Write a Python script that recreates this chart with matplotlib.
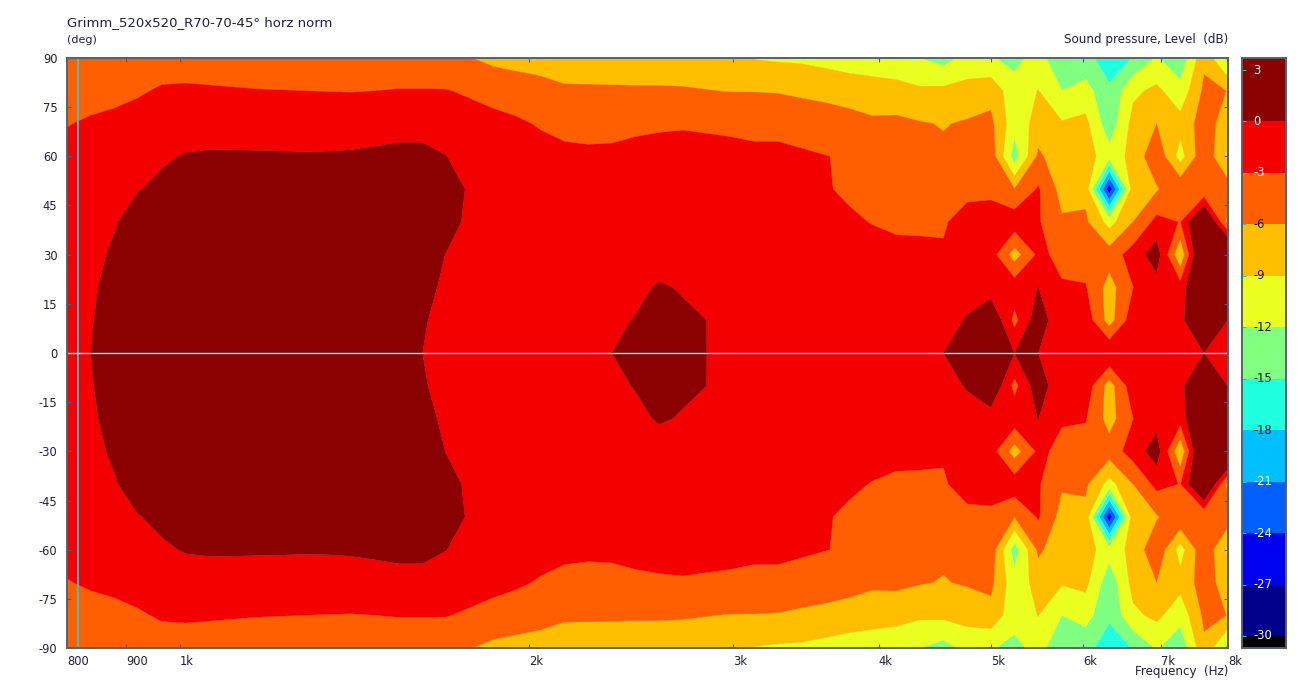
import numpy as np
import matplotlib
matplotlib.use("Agg")
import matplotlib.pyplot as plt
from matplotlib.colors import ListedColormap, BoundaryNorm

# frequency grid of the measurement (Hz)
freqs = [800, 838.5, 878.8, 921.1, 965.4, 1011.8, 1060.5, 1111.5, 1165, 1221,
         1279.7, 1341.3, 1405.8, 1473.4, 1544.3, 1618.6, 1696.4, 1778, 1863.6, 1953.2,
         2047.2, 2145.6, 2248.8, 2357, 2470.4, 2589.2, 2713.7, 2844.3, 2981.1, 3124.5,
         3274.8, 3432.3, 3597.4, 3770.5, 3951.9, 4142, 4341.2, 4550, 4768.9, 4998.3,
         5238.7, 5490.7, 5754.8, 6031.6, 6321.8, 6625.9, 6944.6, 7278.7, 7628.8, 8000]

angles_up = [10, 20, 30, 40, 50, 60, 70, 80, 90]

# on-axis row: normalised so it sits right at 0 dB, only the sign of the rounding differs
spl_axis = [-.01, .0001, .0001, .0001, .0001, .0001, .0001, .0001, .0001, .0001,
            .0001, .0001, .0001, .0001, .0001, .0001, -.01, -.01, -.01, -.01,
            -.01, -.01, -.01, .0001, .0001, .0001, .0001, .0001, -.01, -.01,
            -.01, -.01, -.01, -.01, -.01, -.01, -.01, .0001, .0001, .0001,
            .0001, .0001, -.01, -.01, -.01, -.01, -.01, -.01, .0001, -.01]

# dB per frequency at angles_up
spl_up = [
    [-.4, -.8, -1.1, -1.4, -1.8, -2.3, -3.1, -4.1, -5.1],
    [-.1, -.3, -.7, -1, -1.4, -1.9, -2.7, -3.9, -4.9],
    [.7, .67, .38, -.2, -1, -1.5, -2.3, -3.8, -4.7],
    [1.3, 1.5, 1.4, 1.1, -.1, -.9, -1.9, -3.3, -4.5],
    [1.8, 2.1, 2.1, 1.6, .5, -.3, -1.4, -2.7, -4.3],
    [2.2, 2.6, 2.6, 2.2, 1.1, .15, -1.1, -2.6, -4.3],
    [2.3, 2.7, 2.8, 2.5, 1.4, .25, -1, -2.7, -4.4],
    [2.3, 2.8, 2.9, 2.6, 1.5, .25, -1, -2.8, -4.5],
    [2.3, 2.8, 3, 2.7, 1.6, .22, -1, -2.9, -4.6],
    [2.3, 2.8, 3, 2.7, 1.6, .2, -1, -2.95, -4.6],
    [2.3, 2.8, 3, 2.7, 1.6, .18, -1.1, -3, -4.7],
    [2.2, 2.8, 3, 2.7, 1.6, .2, -1.1, -3.05, -4.7],
    [2.2, 2.7, 3, 2.7, 1.7, .25, -1, -3.1, -4.7],
    [2, 2.5, 2.9, 2.7, 1.9, .4, -.9, -3, -4.6],
    [1.5, 2, 2.3, 2.4, 2, .6, -.8, -2.9, -4.5],
    [.4, 1, 1.5, 1.8, 1.7, .6, -.8, -2.9, -4.5],
    [-1.3, -.6, -.05, .9, 1.2, .05, -1.2, -2.9, -4.9],
    [-1.4, -1.3, -1.1, -.5, -.3, -1, -2, -3.3, -5.9],
    [-1.2, -1.1, -1.1, -1, -1.1, -1.7, -2.4, -3.7, -6.8],
    [-1, -1.1, -1.1, -1.1, -1.4, -1.9, -2.7, -4.1, -7.3],
    [-.8, -1, -1.1, -1.2, -1.6, -2.2, -3.2, -4.6, -7.7],
    [-.7, -1, -1.1, -1.3, -1.8, -2.5, -3.6, -5.6, -7.5],
    [-.6, -.9, -1.1, -1.4, -1.9, -2.6, -3.7, -5.6, -7.6],
    [-.4, -.8, -1.1, -1.4, -1.9, -2.6, -3.6, -5.6, -7.8],
    [.1, -.45, -1, -1.3, -1.8, -2.4, -3.4, -5.6, -8],
    [.8, .2, -.9, -1.2, -1.7, -2.2, -3.3, -5.6, -8],
    [.35, -.15, -1, -1.3, -1.7, -2.2, -3.2, -5.7, -8],
    [0, -.6, -1.1, -1.4, -1.8, -2.3, -3.3, -5.9, -8.3],
    [-.3, -.7, -1.1, -1.5, -1.9, -2.4, -3.4, -6.1, -8.7],
    [-.3, -.7, -1.2, -1.6, -2, -2.5, -3.6, -6.1, -9.1],
    [-.3, -.8, -1.2, -1.7, -2.1, -2.5, -3.6, -6.2, -9.4],
    [-.3, -.9, -1.3, -1.8, -2.3, -2.7, -3.9, -6.6, -9.5],
    [-.4, -1, -1.6, -2.3, -2.9, -2.95, -4.2, -7, -9.9],
    [-.5, -1.1, -1.8, -2.8, -3.2, -3.2, -4.6, -7.6, -10.2],
    [-.6, -1.4, -2.5, -3.05, -3.7, -4, -5.5, -7.6, -10.8],
    [-.7, -1.8, -2.8, -3.13, -4, -4.4, -5.4, -7.7, -11.5],
    [-.7, -2, -2.8, -3.15, -4.3, -5, -5.8, -8.5, -12],
    [-.9, -1.8, -2.85, -3.15, -4.6, -5.5, -6.15, -8.3, -13.2],
    [.2, -1, -1.8, -2.4, -3.4, -4.5, -5.7, -7.9, -11],
    [3, -1.5, -1.7, -2.4, -3.3, -4.2, -5.3, -7, -11.8],
    [-3.85, -1.2, -7.3, -1.2, -5.9, -13.5, -10.9, -10.9, -12.8],
    [2, .05, -2.4, -2.7, -2.7, -5.4, -7.8, -8.9, -11],
    [-2.6, -2.75, -3.7, -5.6, -7.1, -8, -8.7, -12, -14],
    [-1.2, -2.8, -4.3, -5.5, -6.8, -7.6, -8.2, -10.8, -14.2],
    [-7.3, -7.2, -4.6, -10.1, -26.3, -10.8, -13.9, -14.6, -16.3],
    [-1.2, -3.05, -1.7, -6, -7, -8, -8, -9.6, -14.9],
    [-.6, -1.2, 1.6, -2.1, -6.3, -3.7, -6, -8.3, -11.7],
    [-.4, -1.6, -8.6, -3.1, -3.6, -10.2, -7.9, -10.9, -14.2],
    [2.1, 5.5, 7, 6, -5.8, -3.6, -4.6, -5.4, -6.6],
    [-.05, 5, 8, -7, -4.4, -9.6, -7.5, -6.05, -13.1],
]

band_edges = [-100, -30, -27, -24, -21, -18, -15, -12, -9, -6, -3, 0, 100]
band_colors = ["#000000", "#00008b", "#0000f0", "#0060ff", "#00bfff", "#20ffe0",
               "#80ff80", "#eaff20", "#ffbf00", "#ff5f00", "#f50000", "#8b0000"]
cbar_ticks = [3, 0, -3, -6, -9, -12, -15, -18, -21, -24, -27, -30]
cbar_label_colors = ["white", "white", "white", "#101010", "#101010", "#101010",
                     "#101010", "#101010", "white", "white", "white", "white"]

x_ticks = [800, 900, 1000, 2000, 3000, 4000, 5000, 6000, 7000, 8000]
x_labels = ["800", "900", "1k", "2k", "3k", "4k", "5k", "6k", "7k", "8k"]
y_ticks = list(range(-90, 91, 15))

W, H = 1300, 684
FRAME = "#5a6068"
TICK = "#4a5aa0"
TEXT = "#20203a"


def px_axes(fig, left, top, right, bottom):
    return fig.add_axes([left / W, 1 - bottom / H, (right - left) / W, (bottom - top) / H])


def style_frame(ax):
    for s in ax.spines.values():
        s.set_color(FRAME)
        s.set_linewidth(1.4)


plt.rcParams["font.family"] = ["DejaVu Sans"]
fig = plt.figure(figsize=(13, 6.84), dpi=100, facecolor="white")
ax = px_axes(fig, 67, 58, 1228, 648)

# data is symmetric about 0 deg, measured on one side
upper = np.array(spl_up).T
full = np.vstack([upper[::-1], spl_axis, upper])
angles = [-a for a in angles_up[::-1]] + [0] + angles_up

cs = ax.contourf(freqs, angles, full, levels=band_edges, colors=band_colors, antialiased=True)
cs.set_edgecolor("face")
cs.set_linewidth(0.2)

ax.set_xscale("log")
ax.set_xlim(800, 8000)
ax.set_ylim(-90, 90)
ax.minorticks_off()
ax.set_xticks(x_ticks)
ax.set_xticklabels(x_labels, ha="left", fontsize=8.3, color=TEXT)
ax.set_yticks(y_ticks)
ax.set_yticklabels([str(v) for v in y_ticks], fontsize=8.3, color=TEXT)
ax.tick_params(axis="both", which="both", direction="in", length=3, width=0.8, color=TICK,
               top=True, right=True)
ax.tick_params(axis="x", pad=5)
ax.tick_params(axis="y", pad=7)
style_frame(ax)

# cursor lines
ax.axvline(817.6, color="#10d8ff", lw=1.2)
ax.axhline(0, color="#70f4ff", lw=1.0)

fig.text(67 / W, 1 - 23 / H, "Grimm_520x520_R70-70-45° horz norm", fontsize=9.5, color=TEXT, va="center")
fig.text(67 / W, 1 - 40 / H, "(deg)", fontsize=8, color=TEXT, va="center")
fig.text(1228 / W, 1 - 39 / H, "Sound pressure, Level  (dB)", fontsize=8.6, color=TEXT, va="center", ha="right")
fig.text(1228 / W, 1 - 672 / H, "Frequency  (Hz)", fontsize=8.6, color=TEXT, va="center", ha="right")

# level bar on the right
cax = px_axes(fig, 1242, 58, 1286, 648)
cmap = ListedColormap(band_colors)
norm = BoundaryNorm(band_edges, cmap.N)
bar_edges = np.array([-30.7, -30, -27, -24, -21, -18, -15, -12, -9, -6, -3, 0, 3.7])
bar_mid = (bar_edges[:-1] + bar_edges[1:]) / 2
cax.pcolormesh([0, 1], bar_edges, bar_mid[:, None], cmap=cmap, norm=norm)
cax.set_xlim(0, 1)
cax.set_ylim(-30.7, 3.7)
cax.set_xticks([])
cax.set_yticks(cbar_ticks)
cax.set_yticklabels([])
cax.tick_params(axis="y", direction="in", length=3, width=0.8, color="#30c0c0")
for v, c in zip(cbar_ticks, cbar_label_colors):
    cax.text(0.25, v, str(v), color=c, fontsize=8.3, ha="left", va="center")
style_frame(cax)

fig.savefig("out.png", dpi=100, facecolor="white")
